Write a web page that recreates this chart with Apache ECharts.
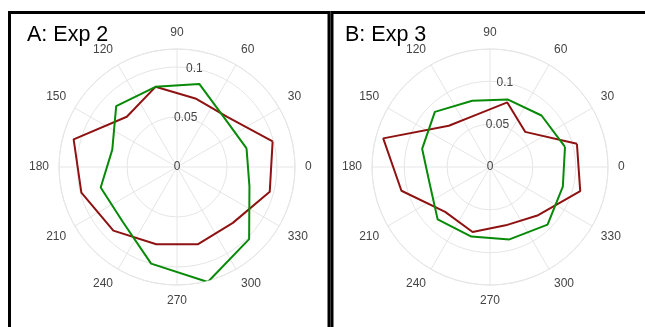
<!DOCTYPE html>
<html>
<head>
<meta charset="utf-8">
<script src="https://cdn.jsdelivr.net/npm/echarts@6/dist/echarts.min.js"></script>
<style>
html,body{margin:0;padding:0;background:#fff;}
#chart{width:645px;height:327px;}
</style>
</head>
<body>
<div id="chart"></div>
<script>
// Bin centres (degrees)
const binAngles = [15, 45, 75, 105, 135, 165, 195, 225, 255, 285, 315, 345];
// Panel A: Exp 2
const exp2Red   = [0.099, 0.071, 0.071, 0.083, 0.071, 0.107, 0.099, 0.090, 0.080, 0.080, 0.079, 0.096];
const exp2Green = [0.072, 0.068, 0.086, 0.083, 0.086, 0.067, 0.079, 0.077, 0.100, 0.119, 0.102, 0.075];
// Panel B: Exp 3
const exp3Red   = [0.105, 0.058, 0.078, 0.063, 0.068, 0.129, 0.107, 0.074, 0.0785, 0.0705, 0.0795, 0.109];
const exp3Green = [0.0906, 0.085, 0.0815, 0.080, 0.091, 0.082, 0.073, 0.0864, 0.084, 0.0875, 0.095, 0.088];
// Axes
const panelTitles = ['A: Exp 2', 'B: Exp 3'];
const radialMax = [0.118, 0.1377];
const radialStep = 0.05;
const angleStep = 30;

const RED = '#8f1212';
const GREEN = '#078a07';
const GRID = '#e6e6e6';
const LABEL = '#444';
const FONT = '"Liberation Sans", Arial, Helvetica, sans-serif';

const centers = [[177, 167], [490, 167]];
const R = 118;

function closed(vals) {
  const d = binAngles.map((a, i) => [vals[i], a]);
  d.push([vals[0], binAngles[0]]);
  return d;
}

const polar = [], angleAxis = [], radiusAxis = [];
centers.forEach((c, p) => {
  // data polar
  polar.push({ center: c, radius: R });
  angleAxis.push({
    polarIndex: polar.length - 1, type: 'value', min: 0, max: 360, interval: angleStep,
    startAngle: 0, clockwise: false,
    axisLine: { show: true, lineStyle: { color: GRID, width: 1 } },
    axisTick: { show: false },
    splitLine: { show: true, lineStyle: { color: GRID, width: 1 } },
    axisLabel: { show: true, margin: 10, color: LABEL, fontSize: 12, fontFamily: FONT,
      formatter: v => (v >= 360 ? '' : String(v)) }
  });
  radiusAxis.push({
    polarIndex: polar.length - 1, type: 'value', min: 0, max: radialMax[p], interval: radialStep,
    axisLine: { show: false }, axisTick: { show: false }, axisLabel: { show: false },
    splitLine: { show: true, lineStyle: { color: GRID, width: 1 } }
  });
  // label-only polar, radial axis drawn at 80 deg
  polar.push({ center: c, radius: R });
  angleAxis.push({
    polarIndex: polar.length - 1, type: 'value', min: 0, max: 360, startAngle: 80, clockwise: false,
    axisLine: { show: false }, axisTick: { show: false }, axisLabel: { show: false }, splitLine: { show: false }
  });
  radiusAxis.push({
    polarIndex: polar.length - 1, type: 'value', min: 0, max: radialMax[p], interval: radialStep,
    axisLine: { show: false }, axisTick: { show: false }, splitLine: { show: false },
    axisLabel: { show: true, showMaxLabel: false, margin: 0, align: 'center', verticalAlign: 'middle',
      rotate: 0, color: LABEL, fontSize: 12, fontFamily: FONT,
      formatter: v => (v === 0 ? '0' : String(+v.toFixed(3))) }
  });
});

function lineSeries(vals, pIdx, color) {
  return {
    type: 'line', coordinateSystem: 'polar', polarIndex: pIdx,
    data: closed(vals), symbol: 'none', smooth: false, silent: true,
    lineStyle: { color: color, width: 2 }, animation: false
  };
}

const titleStyle = { fontSize: 21.5, fontWeight: 'normal', color: '#000', fontFamily: FONT };
const option = {
  animation: false,
  backgroundColor: '#fff',
  title: [
    { text: panelTitles[0], left: 27, top: 24, padding: 0, textStyle: titleStyle },
    { text: panelTitles[1], left: 345, top: 24, padding: 0, textStyle: titleStyle }
  ],
  polar, angleAxis, radiusAxis,
  series: [
    lineSeries(exp2Red, 0, RED),
    lineSeries(exp2Green, 0, GREEN),
    lineSeries(exp3Red, 2, RED),
    lineSeries(exp3Green, 2, GREEN)
  ],
  graphic: [
    { type: 'rect', shape: { x: 9.5, y: 12.5, width: 319.5, height: 400 }, style: { fill: null, stroke: '#000', lineWidth: 3 }, silent: true },
    { type: 'rect', shape: { x: 332, y: 12.5, width: 400, height: 400 }, style: { fill: null, stroke: '#000', lineWidth: 3 }, silent: true }
  ]
};

const chart = echarts.init(document.getElementById('chart'), null, { renderer: 'canvas' });
chart.setOption(option);
</script>
</body>
</html>
